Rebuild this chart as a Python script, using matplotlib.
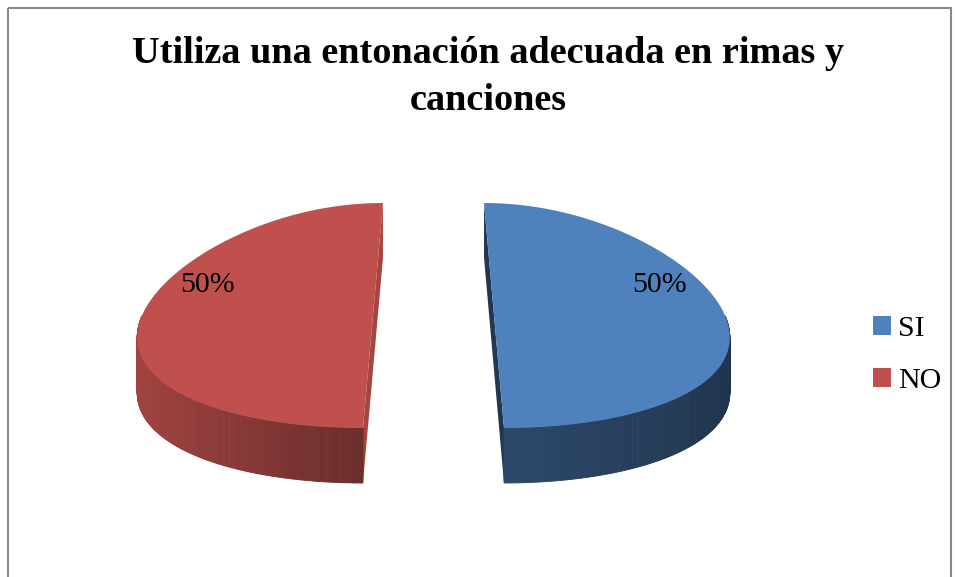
import numpy as np
import matplotlib
matplotlib.use("Agg")
import matplotlib.pyplot as plt
from matplotlib.patches import Polygon, Rectangle, Patch
from matplotlib.colors import to_rgb

# ---------------------------  data  ---------------------------
title = "Utiliza una entonación adecuada en rimas y\ncanciones"
labels = ["SI", "NO"]
values = [50, 50]
colors = ["#4F81BD", "#C0504D"]

# ---------------------------  layout of the 3D pie (pixels)  ---------------------------
W, H = 959, 577
cx, cy = 433.5, 315.5      # centre of the pie top face
R, ry = 231.0, 112.5       # horizontal / vertical radius of the top face
depth = 55.0               # thickness of the pie
persp = 0.165              # far side drawn narrower
explode = 0.262            # offset of each slice, in radii
cut_shade = [0.42, 0.86]   # shade of the visible cut face of each slice

plt.rcParams['font.family'] = ['Liberation Serif', 'DejaVu Serif']

fig = plt.figure(figsize=(W / 100, H / 100), dpi=100)
ax = fig.add_axes([0, 0, 1, 1])
ax.set_xlim(0, W)
ax.set_ylim(H, 0)
ax.axis('off')


def proj(u, v, dz=0.0):
    u = np.asarray(u, float)
    v = np.asarray(v, float)
    return cx + R * u * (1 - persp * v), cy - ry * v + dz


def shade(c, f):
    return tuple(np.clip(np.array(to_rgb(c)) * f, 0, 1))


def wall_factor(phi):
    return np.interp(np.cos(phi), [-1, 0, 1], [0.86, 0.56, 0.40])


total = float(sum(values))
start = np.pi / 2
for i, (val, col) in enumerate(zip(values, colors)):
    sweep = 2 * np.pi * val / total
    a0, a1 = start - sweep, start       # clockwise from 12 o'clock
    start = a0
    mid = (a0 + a1) / 2
    ou, ov = explode * np.cos(mid), explode * np.sin(mid)

    # cut faces (radial sides)
    for a in (a0, a1):
        eu, ev = ou + np.cos(a), ov + np.sin(a)
        x1, y1 = proj([ou, eu], [ov, ev])
        x2, y2 = proj([eu, ou], [ev, ov], depth)
        ax.add_patch(Polygon(np.column_stack([np.r_[x1, x2], np.r_[y1, y2]]),
                             closed=True, fc=shade(col, cut_shade[i]), ec='none'))

    # outer wall, front part only, drawn in strips for the gradient
    phis = np.linspace(a0, a1, 400)
    front = np.sin(phis) <= 0.001
    ph = phis[front]
    for p0, p1 in zip(ph[:-1], ph[1:]):
        pp = np.array([p0, p1])
        xt, yt = proj(ou + np.cos(pp), ov + np.sin(pp))
        xb, yb = proj(ou + np.cos(pp[::-1]), ov + np.sin(pp[::-1]), depth)
        c = shade(col, wall_factor((p0 + p1) / 2))
        ax.add_patch(Polygon(np.column_stack([np.r_[xt, xb], np.r_[yt, yb]]),
                             closed=True, fc=c, ec=c, lw=0.6))

    # top face
    xs, ys = proj(np.r_[ou, ou + np.cos(phis)], np.r_[ov, ov + np.sin(phis)])
    ax.add_patch(Polygon(np.column_stack([xs, ys]), closed=True, fc=col, ec='none'))

    # percentage label
    lx, ly = proj(ou + 0.76 * np.cos(mid), ov + 0.76 * np.sin(mid) + 0.27)
    ax.text(lx, ly, f"{val / total:.0%}", fontsize=21.5, ha='center', va='center',
            color='black')

ax.text(488, 36, title, fontsize=27.5, fontweight='bold', ha='center', va='top',
        linespacing=1.45)

handles = [Patch(fc=c, ec='none') for c in colors]
ax.legend(handles, labels, loc='center left', bbox_to_anchor=(873, 355),
          bbox_transform=ax.transData, frameon=False, fontsize=21.5,
          handlelength=0.6, handleheight=0.6, handletextpad=0.25,
          labelspacing=0.85, borderpad=0, borderaxespad=0)

ax.add_patch(Rectangle((8, 8), 943, 600, fill=False, ec='#898989', lw=1.5))

fig.savefig("out.png", dpi=100)
